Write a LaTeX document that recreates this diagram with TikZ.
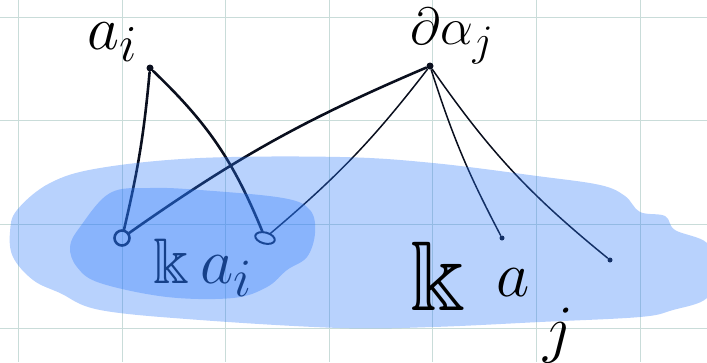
\documentclass[tikz,border=0pt]{standalone}
\usepackage{amssymb}
\usetikzlibrary{positioning, shapes.geometric}
\definecolor{cgrid}{HTML}{C9DCD9}
\definecolor{cblob}{HTML}{2876FA}
\definecolor{cink}{HTML}{0A0F1E}
\tikzset{
  every picture/.style={line width=1.2pt},
  ink/.style={draw=cink, line width=#1, line cap=round},
  ink/.default=2.6pt,
  blob/.style={fill=cblob, fill opacity=0.33, draw=none},
  gridline/.style={draw=cgrid, line width=1pt},
  lbl/.style={text=black, inner sep=0pt, font=\Huge},
  dot/.style={circle, fill=cink, inner sep=0pt, minimum size=5pt},
}

\begin{document}
\begin{tikzpicture}[x=1pt, y=-1pt]
  \useasboundingbox (0,0) rectangle (707,362);
  % squared paper
  \foreach \i in {0,...,6}
    \draw[gridline] ({18.5+\i*103.6},0) -- ++(0,362);
  \foreach \j in {0,...,3}
    \draw[gridline] (0,{17+\j*103.8}) -- ++(707,0);
  % top: the two generators
  \node[lbl, scale=2.5] (ai) at (113,42) {$a_i$};
  \node[lbl, scale=2.1] (dj) at (452,36) {$\partial\alpha_j$};
  \node[dot, minimum size=7pt] (ti) at (150,68) {};
  \node[dot, minimum size=7pt] (tj) at (430,66) {};
  % bottom: where they land
  \node[circle, ink, minimum size=15pt, inner sep=0pt] (ki1) at (122,238) {};
  \node[ellipse, ink=2pt, minimum width=20pt, minimum height=11pt, inner sep=0pt, rotate=-15] (ki2) at (265,238) {};
  \node[dot] (kj1) at (502,238) {};
  \node[dot] (kj2) at (610,260) {};
  \draw[ink] (ti) to[bend left=4] (ki1);
  \draw[ink] (ti) to[bend left=12] (ki2);
  \draw[ink] (tj) to[bend right=6] (ki1);
  \draw[ink=1.5pt] (tj) to[bend left=6] (ki2);
  \draw[ink=1.5pt] (tj) to[bend right=5] (kj1);
  \draw[ink=1.5pt] (tj) to[bend right=8] (kj2);
  \node[lbl, scale=2.6] (kai) at (203,268) {$\Bbbk\,a_i$};
  % the two blue clouds
  \fill[blob] plot[smooth cycle, tension=0.6] coordinates {(10,232) (17,210) (50,183) (100,168) (200,158) (340,157) (433,163) (537,176) (600,185) (625,196) (640,212) (665,216) (675,230) (707,243) (715,270) (707,298) (673,310) (640,317) (540,322) (433,327) (340,328) (200,320) (100,310) (60,293) (33,280) (13,257)};
  \fill[blob] plot[smooth cycle, tension=0.6] coordinates {(80,227) (110,193) (150,188) (200,190) (283,198) (310,210) (315,233) (307,257) (287,270) (267,287) (233,298) (167,297) (100,283) (77,267) (70,247)};
  \node[lbl, scale=4] (kk) at (438,276) {$\Bbbk$};
  \node[lbl, scale=2.6] (ka) at (513,283) {$a$};
  \node[lbl, scale=2.6] (kj) at (558,336) {$j$};
\end{tikzpicture}
\end{document}
